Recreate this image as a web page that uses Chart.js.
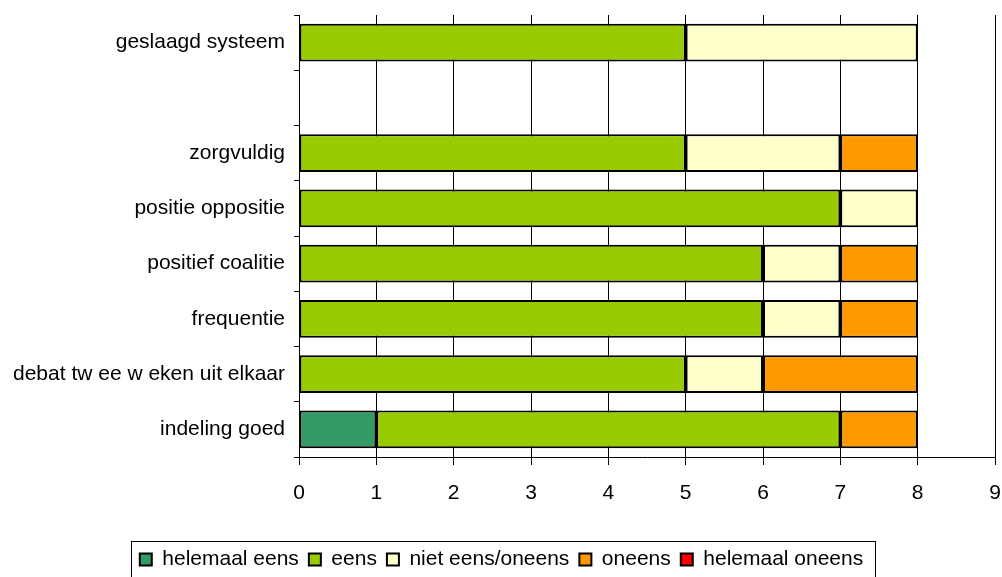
<!DOCTYPE html>
<html>
<head>
<meta charset="utf-8">
<script src="https://cdn.jsdelivr.net/npm/chart.js@4.4.0/dist/chart.umd.min.js"></script>
<style>
    body { margin: 0; background: #fff; }
</style>
</head>
<body>
<canvas id="chart" width="1002" height="577"></canvas>
<script>
// Categories, top to bottom (the empty one is a spacer row in the original)
const categories = [
    'geslaagd systeem',
    '',
    'zorgvuldig',
    'positie oppositie',
    'positief coalitie',
    'frequentie',
    'debat tw ee w eken uit elkaar',
    'indeling goed'
];

// Answer counts per category
const helemaalEens   = [0, 0, 0, 0, 0, 0, 0, 1];
const eens           = [5, 0, 5, 7, 6, 6, 5, 6];
const nietEensOneens = [3, 0, 2, 1, 1, 1, 1, 0];
const oneens         = [0, 0, 1, 0, 1, 1, 2, 1];
const helemaalOneens = [0, 0, 0, 0, 0, 0, 0, 0];

const xMin = 0;
const xMax = 9;

Chart.defaults.font.family = 'Arial, "Liberation Sans", sans-serif';
Chart.defaults.font.size = 21;
Chart.defaults.color = '#000';

const series = [
    { label: 'helemaal eens', data: helemaalEens, color: '#339966' },
    { label: 'eens', data: eens, color: '#99CC00' },
    { label: 'niet eens/oneens', data: nietEensOneens, color: '#FFFFCC' },
    { label: 'oneens', data: oneens, color: '#FF9900' },
    { label: 'helemaal oneens', data: helemaalOneens, color: '#FF0000' }
];

// Draws the frame around the legend
const legendFrame = {
    id: 'legendFrame',
    afterDraw(chart) {
        const boxes = chart.legend && chart.legend.legendHitBoxes;
        if (!boxes || !boxes.length) return;
        const left = Math.min(...boxes.map(b => b.left)) - 9;
        const right = Math.max(...boxes.map(b => b.left + b.width)) + 12;
        const top = boxes[0].top - 8;
        const ctx = chart.ctx;
        ctx.save();
        ctx.strokeStyle = '#000';
        ctx.lineWidth = 1;
        ctx.strokeRect(Math.round(left) + 0.5, Math.round(top) + 0.5, Math.round(right - left), 60);
        ctx.restore();
    }
};

new Chart(document.getElementById('chart'), {
    type: 'bar',
    data: {
        labels: categories,
        datasets: series.map(s => ({
            label: s.label,
            data: s.data,
            backgroundColor: s.color,
            borderColor: '#000',
            borderWidth: 2,
            borderSkipped: false,
            barPercentage: 0.68,
            categoryPercentage: 1
        }))
    },
    options: {
        indexAxis: 'y',
        responsive: false,
        animation: false,
        layout: { padding: { top: 15, right: 7, bottom: -3, left: 8 } },
        plugins: {
            legend: {
                position: 'bottom',
                labels: { boxWidth: 12, boxHeight: 12, padding: 10 }
            },
            tooltip: { enabled: false }
        },
        scales: {
            x: {
                stacked: true,
                min: xMin,
                max: xMax,
                ticks: { stepSize: 1, padding: 16 },
                grid: { color: '#000', lineWidth: 1, tickLength: 8 },
                border: { color: '#000', width: 1 },
                afterFit(axis) {
                    axis.height = 82;
                    axis.paddingLeft = 0;
                    axis.paddingRight = 0;
                }
            },
            y: {
                stacked: true,
                ticks: { padding: 9 },
                grid: { color: '#000', drawOnChartArea: false, tickLength: 5 },
                border: { color: '#000', width: 1 },
                afterFit(axis) {
                    axis.width = 291;
                    axis.paddingTop = 0;
                    axis.paddingBottom = 0;
                }
            }
        }
    },
    plugins: [legendFrame]
});
</script>
</body>
</html>
